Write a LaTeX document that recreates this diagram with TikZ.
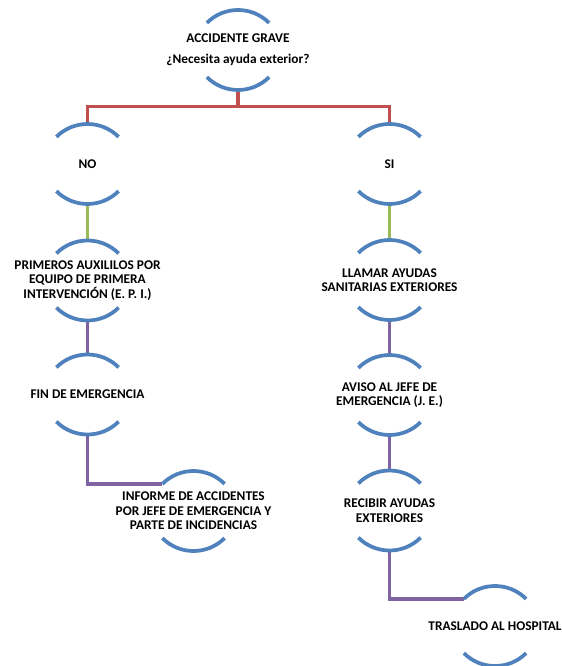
\documentclass[tikz,border=0pt]{standalone}
\usepackage{fontspec}
\setmainfont{Carlito}
\usepackage{tikz}
\usetikzlibrary{calc}
\definecolor{azularco}{RGB}{79,129,189}
\definecolor{rojo}{RGB}{192,80,77}
\definecolor{verde}{RGB}{155,187,89}
\definecolor{morado}{RGB}{128,100,162}

\begin{document}
\begin{tikzpicture}[x=0.75pt, y=0.75pt, every node/.style={font=\bfseries\fontsize{10}{10.9}\selectfont, align=center, inner sep=0pt},
  arco/.style={azularco, line width=2.8pt}, enlace/.style={line width=2.5pt}]
\useasboundingbox (0,0) rectangle (561,-666);
\node (accidente) at (238,-50) {ACCIDENTE GRAVE\\[4.8pt] ¿Necesita ayuda exterior?};
\node (no) at (87.5,-164) {NO};
\node (si) at (389.5,-164) {SI};
\node (primeros) at (87.5,-280.5) {PRIMEROS AUXILILOS POR\\ EQUIPO DE PRIMERA\\ INTERVENCIÓN (E. P. I.)};
\node (fin) at (87.5,-394.5) {FIN DE EMERGENCIA};
\node (informe) at (193.5,-511) {INFORME DE ACCIDENTES\\ POR JEFE DE EMERGENCIA Y\\ PARTE DE INCIDENCIAS};
\node (llamar) at (389.5,-280) {LLAMAR AYUDAS\\ SANITARIAS EXTERIORES};
\node (aviso) at (389.5,-395) {AVISO AL JEFE DE\\ EMERGENCIA (J. E.)};
\node (recibir) at (389.5,-510.5) {RECIBIR AYUDAS\\ EXTERIORES};
\node (traslado) at (495,-626) {TRASLADO AL HOSPITAL};
\coordinate (rama) at (238,-106.5);
\draw[enlace, rojo] ([shift={(0,-40)}]accidente.center) -- (rama);
\draw[enlace, rojo] ([shift={(0,40)}]no.center) |- (rama) -| ([shift={(0,40)}]si.center);
\draw[enlace, verde] ([shift={(0,-40)}]no.center) -- ([shift={(0,40)}]primeros.center);
\draw[enlace, verde] ([shift={(0,-40)}]si.center) -- ([shift={(0,40)}]llamar.center);
\draw[enlace, morado] ([shift={(0,-40)}]primeros.center) -- ([shift={(0,40)}]fin.center);
\draw[enlace, morado] ([shift={(0,-40)}]fin.center) |- ([shift={(-31.1,27.1)}]informe.center);
\draw[enlace, morado] ([shift={(0,-40)}]llamar.center) -- ([shift={(0,40)}]aviso.center);
\draw[enlace, morado] ([shift={(0,-40)}]aviso.center) -- ([shift={(0,40)}]recibir.center);
\draw[enlace, morado] ([shift={(0,-40)}]recibir.center) |- ([shift={(-31.1,27.1)}]traslado.center);
\foreach \n in {accidente,no,si,primeros,fin,informe,llamar,aviso,recibir,traslado} {
  \draw[arco] ([shift={(0,-4)}]\n.center) ++(45:44) arc[start angle=45, end angle=135, radius=44];
  \draw[arco] ([shift={(0,4)}]\n.center) ++(225:44) arc[start angle=225, end angle=315, radius=44];
}
\end{tikzpicture}
\end{document}
